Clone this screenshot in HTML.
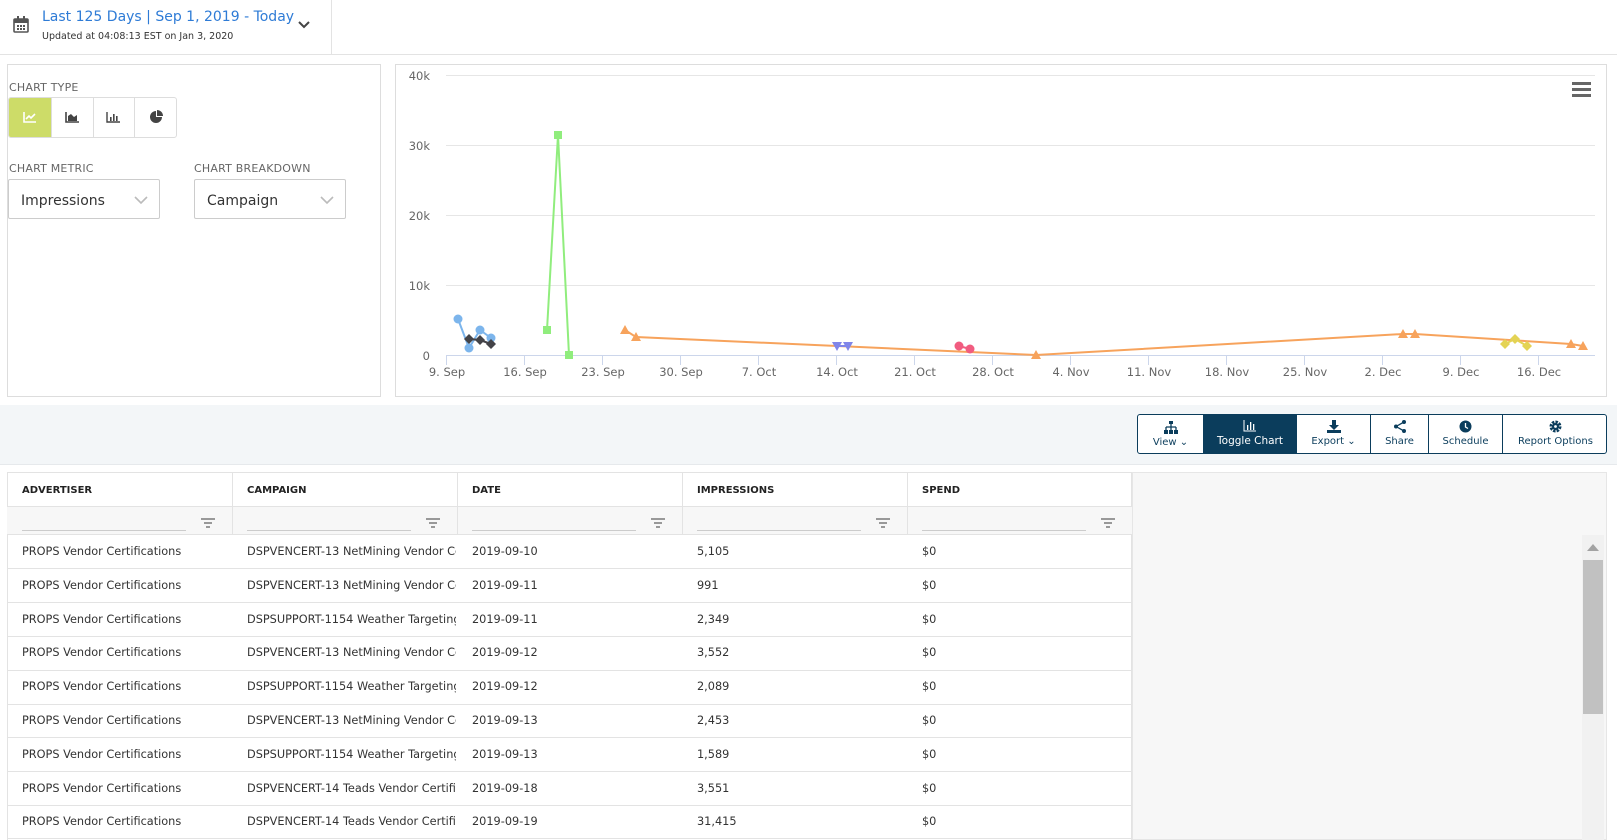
<!DOCTYPE html>
<html><head><meta charset="utf-8"><style>
*{box-sizing:border-box;margin:0;padding:0}
body{width:1617px;height:840px;overflow:hidden;background:#fff;font-family:"DejaVu Sans","Liberation Sans",sans-serif;color:#333;position:relative}
.abs{position:absolute}
.lbl{font-size:11px;color:#666;letter-spacing:0.2px}
.ct{border:1px solid #ddd;border-radius:3px}
.sel{border:1px solid #ccc;border-radius:2px;font-size:14px;color:#333;padding:13px 12px 0;height:40px}
.th{font-size:10px;font-weight:bold;color:#222}
.cell{font-size:11.3px;color:#333;white-space:nowrap;overflow:hidden}
.btn{position:absolute;top:0;height:40px;border-right:1px solid #0b3d5c;text-align:center;font-size:10px;color:#0b3d5c;padding-top:5px}
</style></head><body>
<div class="abs" style="left:0;top:0;width:1617px;height:55px;border-bottom:1px solid #e3e3e3"></div>
<div class="abs" style="left:331px;top:0;width:1px;height:55px;background:#e3e3e3"></div>
<svg class="abs" style="left:13px;top:16px" width="16" height="18"><rect x="1" y="3" width="14" height="13" rx="1" fill="none" stroke="#555" stroke-width="1.6"/><rect x="1" y="3" width="14" height="4" fill="#555"/><rect x="4" y="0" width="2" height="4" fill="#555"/><rect x="10" y="0" width="2" height="4" fill="#555"/><g fill="#555"><rect x="4" y="9" width="2" height="2"/><rect x="7" y="9" width="2" height="2"/><rect x="10" y="9" width="2" height="2"/><rect x="4" y="12" width="2" height="2"/><rect x="7" y="12" width="2" height="2"/><rect x="10" y="12" width="2" height="2"/></g></svg>
<div class="abs" style="left:42px;top:9px;font-size:14px;color:#2e7bd6">Last 125 Days | Sep 1, 2019 - Today</div>
<div class="abs" style="left:42px;top:31px;font-size:9.5px;color:#333">Updated at 04:08:13 EST on Jan 3, 2020</div>
<svg class="abs" style="left:298px;top:20px" width="12" height="10"><path d="M1 2 L6 7 L11 2" fill="none" stroke="#444" stroke-width="2"/></svg>

<div class="abs" style="left:7px;top:64px;width:374px;height:333px;border:1px solid #ddd"></div>
<div class="abs lbl" style="left:9px;top:81px">CHART TYPE</div>
<div class="abs ct" style="left:8px;top:97px;width:169px;height:41px;overflow:hidden">
 <div class="abs" style="left:0;top:0;width:42px;height:41px;background:#cddc68"></div>
 <div class="abs" style="left:42px;top:0;width:1px;height:41px;background:#ddd"></div>
 <div class="abs" style="left:84px;top:0;width:1px;height:41px;background:#ddd"></div>
 <div class="abs" style="left:125px;top:0;width:1px;height:41px;background:#ddd"></div>
 <svg class="abs" style="left:14px;top:13px" width="14" height="12"><path d="M1 1V11H13" stroke="#fff" stroke-width="1.6" fill="none"/><path d="M3 8L6 5L8 7L12 3" stroke="#fff" stroke-width="1.6" fill="none"/></svg>
 <svg class="abs" style="left:56px;top:13px" width="15" height="12"><path d="M1 1V11H14" stroke="#444" stroke-width="1.6" fill="none"/><path d="M3 10V5L6 3L9 6L12 4V10Z" fill="#444"/></svg>
 <svg class="abs" style="left:97px;top:13px" width="15" height="12"><path d="M1 1V11H14" stroke="#444" stroke-width="1.4" fill="none"/><rect x="4" y="6" width="1.6" height="4" fill="#444"/><rect x="7" y="3" width="1.6" height="7" fill="#444"/><rect x="10" y="5" width="1.6" height="5" fill="#444"/></svg>
 <svg class="abs" style="left:140px;top:12px" width="14" height="14"><path d="M7 7V1A6 6 0 1 0 13 7Z" fill="#444"/><path d="M8 0V6H14A6 6 0 0 0 8 0Z" fill="#444"/></svg>
</div>
<div class="abs lbl" style="left:9px;top:162px">CHART METRIC</div>
<div class="abs lbl" style="left:194px;top:162px">CHART BREAKDOWN</div>
<div class="abs sel" style="left:8px;top:179px;width:152px">Impressions</div>
<div class="abs sel" style="left:194px;top:179px;width:152px">Campaign</div>
<svg class="abs" style="left:134px;top:196px" width="14" height="9"><path d="M1 1L7 7L13 1" fill="none" stroke="#bbb" stroke-width="1.6"/></svg>
<svg class="abs" style="left:320px;top:196px" width="14" height="9"><path d="M1 1L7 7L13 1" fill="none" stroke="#bbb" stroke-width="1.6"/></svg>

<div class="abs" style="left:395px;top:64px;width:1212px;height:333px;border:1px solid #ddd"></div>
<svg class="abs" style="left:0;top:0" width="1617" height="400" font-family="DejaVu Sans, sans-serif">
 <g stroke="#e6e6e6" stroke-width="1">
  <line x1="446" x2="1595" y1="75.5" y2="75.5"/><line x1="446" x2="1595" y1="145.5" y2="145.5"/><line x1="446" x2="1595" y1="215.5" y2="215.5"/><line x1="446" x2="1595" y1="285.5" y2="285.5"/>
 </g>
 <line x1="446" x2="1595" y1="355.5" y2="355.5" stroke="#ccd6eb"/>
 <g stroke="#ccd6eb">
  <line x1="446.5" x2="446.5" y1="355" y2="365"/><line x1="524.5" x2="524.5" y1="355" y2="365"/><line x1="602.5" x2="602.5" y1="355" y2="365"/><line x1="680.5" x2="680.5" y1="355" y2="365"/><line x1="758.5" x2="758.5" y1="355" y2="365"/><line x1="836.5" x2="836.5" y1="355" y2="365"/><line x1="914.5" x2="914.5" y1="355" y2="365"/><line x1="992.5" x2="992.5" y1="355" y2="365"/><line x1="1070.5" x2="1070.5" y1="355" y2="365"/><line x1="1148.5" x2="1148.5" y1="355" y2="365"/><line x1="1226.5" x2="1226.5" y1="355" y2="365"/><line x1="1304.5" x2="1304.5" y1="355" y2="365"/><line x1="1382.5" x2="1382.5" y1="355" y2="365"/><line x1="1460.5" x2="1460.5" y1="355" y2="365"/><line x1="1538.5" x2="1538.5" y1="355" y2="365"/>
 </g>
 <g font-size="11.5" fill="#666" text-anchor="end">
  <text x="430" y="80">40k</text><text x="430" y="150">30k</text><text x="430" y="220">20k</text><text x="430" y="290">10k</text><text x="430" y="360">0</text>
 </g>
 <g font-size="11.5" fill="#666" text-anchor="middle">
  <text x="447" y="376">9. Sep</text><text x="525" y="376">16. Sep</text><text x="603" y="376">23. Sep</text><text x="681" y="376">30. Sep</text><text x="759" y="376">7. Oct</text><text x="837" y="376">14. Oct</text><text x="915" y="376">21. Oct</text><text x="993" y="376">28. Oct</text><text x="1071" y="376">4. Nov</text><text x="1149" y="376">11. Nov</text><text x="1227" y="376">18. Nov</text><text x="1305" y="376">25. Nov</text><text x="1383" y="376">2. Dec</text><text x="1461" y="376">9. Dec</text><text x="1539" y="376">16. Dec</text>
 </g>
 <polyline points="625,330 636,337 1036,355 1403,334 1415,334 1571,344 1583,346" fill="none" stroke="#f7a35c" stroke-width="2"/>
 <g fill="#f7a35c"><path d="M625 325l5 9h-10z"/><path d="M636 332l5 9h-10z"/><path d="M1036 350l5 9h-10z"/><path d="M1403 329l5 9h-10z"/><path d="M1415 329l5 9h-10z"/><path d="M1571 339l5 9h-10z"/><path d="M1583 341l5 9h-10z"/></g>
 <polyline points="837,346 848,346" stroke="#8085e9" stroke-width="2"/>
 <g fill="#8085e9"><path d="M832 342h10l-5 9z"/><path d="M843 342h10l-5 9z"/></g>
 <polyline points="959,346 970,349" stroke="#f15c80" stroke-width="2"/>
 <circle cx="959" cy="346" r="4.5" fill="#f15c80"/><circle cx="970" cy="349" r="4.5" fill="#f15c80"/>
 <polyline points="1505,344 1515,339 1527,346" fill="none" stroke="#e4d354" stroke-width="2"/>
 <g fill="#e4d354"><path d="M1505 339l5 5-5 5-5-5z"/><path d="M1515 334l5 5-5 5-5-5z"/><path d="M1527 341l5 5-5 5-5-5z"/></g>
 <polyline points="547,330 558,135 569,355" fill="none" stroke="#90ed7d" stroke-width="2"/>
 <g fill="#90ed7d"><rect x="543" y="326" width="8" height="8"/><rect x="554" y="131" width="8" height="8"/><rect x="565" y="351" width="8" height="8"/></g>
 <polyline points="458,319 469,348 480,330 491,338" fill="none" stroke="#7cb5ec" stroke-width="2"/>
 <g fill="#7cb5ec"><circle cx="458" cy="319" r="4.5"/><circle cx="469" cy="348" r="4.5"/><circle cx="480" cy="330" r="4.5"/><circle cx="491" cy="338" r="4.5"/></g>
 <polyline points="469,339 480,340 491,344" fill="none" stroke="#434348" stroke-width="2"/>
 <g fill="#434348"><path d="M469 334l5 5-5 5-5-5z"/><path d="M480 335l5 5-5 5-5-5z"/><path d="M491 339l5 5-5 5-5-5z"/></g>
 <g fill="#666"><rect x="1572" y="82" width="19" height="3"/><rect x="1572" y="88" width="19" height="3"/><rect x="1572" y="94" width="19" height="3"/></g>
</svg>

<div class="abs" style="left:0;top:405px;width:1617px;height:60px;background:#f3f6f8;border-bottom:1px solid #e6e9ec"></div>
<div class="abs" style="left:1137px;top:414px;width:470px;height:40px;border:1px solid #0b3d5c;border-radius:3px;background:#fff;overflow:hidden">
 <div class="btn" style="left:0;width:66px;padding-top:6px">
  <svg width="14" height="13"><rect x="5" y="0" width="4" height="3" fill="#0b3d5c"/><path d="M7 3V6M2 6H12M2 6V9M7 6V9M12 6V9" stroke="#0b3d5c" stroke-width="1.3" fill="none"/><rect x="0" y="9" width="4" height="4" fill="#0b3d5c"/><rect x="5" y="9" width="4" height="4" fill="#0b3d5c"/><rect x="10" y="9" width="4" height="4" fill="#0b3d5c"/></svg><br>View &#8964;</div>
 <div class="btn" style="left:66px;width:93px;background:#0b3d5c;color:#fff">
  <svg width="14" height="12"><path d="M1 0V11H13" stroke="#fff" stroke-width="1" fill="none"/><rect x="4" y="5" width="1.3" height="5" fill="#fff"/><rect x="7" y="2" width="1.3" height="8" fill="#fff"/><rect x="10" y="4" width="1.3" height="6" fill="#fff"/></svg><br><span style="font-size:10.5px">Toggle Chart</span></div>
 <div class="btn" style="left:159px;width:74px">
  <svg width="14" height="13"><path d="M5 0H9V5H12L7 10L2 5H5Z" fill="#0b3d5c"/><rect x="0" y="10" width="14" height="3" fill="#0b3d5c"/></svg><br>Export &#8964;</div>
 <div class="btn" style="left:233px;width:58px">
  <svg width="12" height="13"><circle cx="10" cy="2" r="2" fill="#0b3d5c"/><circle cx="2" cy="6.5" r="2" fill="#0b3d5c"/><circle cx="10" cy="11" r="2" fill="#0b3d5c"/><path d="M10 2L2 6.5L10 11" stroke="#0b3d5c" stroke-width="1.3" fill="none"/></svg><br>Share</div>
 <div class="btn" style="left:291px;width:74px">
  <svg width="13" height="13"><circle cx="6.5" cy="6.5" r="6" fill="#0b3d5c"/><path d="M6.5 3V7L9 8.5" stroke="#fff" stroke-width="1.3" fill="none"/></svg><br>Schedule</div>
 <div class="btn" style="left:365px;width:105px;border-right:none">
  <svg width="13" height="13"><circle cx="6.5" cy="6.5" r="4.5" fill="none" stroke="#0b3d5c" stroke-width="3" stroke-dasharray="2.4 1.1"/><circle cx="6.5" cy="6.5" r="3.5" fill="#0b3d5c"/><circle cx="6.5" cy="6.5" r="1.4" fill="#fff"/></svg><br>Report Options</div>
</div>

<div class="abs" style="left:1132px;top:472px;width:475px;height:368px;background:#f7f7f7;border:1px solid #e6e6e6"></div>
<div class="abs" style="left:1582px;top:535px;width:22px;height:305px;background:#f1f1f1"></div>
<div class="abs" style="left:1583px;top:560px;width:20px;height:154px;background:#c1c1c1"></div>
<svg class="abs" style="left:1587px;top:544px" width="12" height="7"><path d="M0 7L6 0L12 7Z" fill="#a3a3a3"/></svg>

<div class="abs" style="left:7px;top:472px;width:1125px;height:368px;border:1px solid #e3e3e3;border-bottom:none"></div>
<div class="abs" style="left:7px;top:506px;width:1125px;height:29px;background:#f7f7f7;border-top:1px solid #e3e3e3;border-bottom:1px solid #e3e3e3"></div>
<svg class="abs" style="left:0;top:472px" width="1140" height="368">
 <g stroke="#e3e3e3"><line x1="232.5" x2="232.5" y1="0" y2="63"/><line x1="457.5" x2="457.5" y1="0" y2="63"/><line x1="682.5" x2="682.5" y1="0" y2="63"/><line x1="907.5" x2="907.5" y1="0" y2="63"/>
 <line x1="7" x2="1132" y1="96.5" y2="96.5"/><line x1="7" x2="1132" y1="130.5" y2="130.5"/><line x1="7" x2="1132" y1="164.5" y2="164.5"/><line x1="7" x2="1132" y1="198.5" y2="198.5"/><line x1="7" x2="1132" y1="232.5" y2="232.5"/><line x1="7" x2="1132" y1="265.5" y2="265.5"/><line x1="7" x2="1132" y1="299.5" y2="299.5"/><line x1="7" x2="1132" y1="333.5" y2="333.5"/><line x1="7" x2="1132" y1="366.5" y2="366.5"/></g>
 <g stroke="#ccc"><line x1="22" x2="186" y1="58.5" y2="58.5"/><line x1="247" x2="411" y1="58.5" y2="58.5"/><line x1="472" x2="636" y1="58.5" y2="58.5"/><line x1="697" x2="861" y1="58.5" y2="58.5"/><line x1="922" x2="1086" y1="58.5" y2="58.5"/></g>
 <g fill="#999"><g id="f"><rect x="201" y="46" width="14" height="2"/><rect x="204" y="50" width="8" height="2"/><rect x="206" y="54" width="4" height="2"/></g>
 <use href="#f" x="225"/><use href="#f" x="450"/><use href="#f" x="675"/><use href="#f" x="900"/></g>
</svg>
<div class="abs th" style="left:22px;top:485px">ADVERTISER</div>
<div class="abs th" style="left:247px;top:485px">CAMPAIGN</div>
<div class="abs th" style="left:472px;top:485px">DATE</div>
<div class="abs th" style="left:697px;top:485px">IMPRESSIONS</div>
<div class="abs th" style="left:922px;top:485px">SPEND</div>

<div class="abs cell" style="left:22px;top:535px;line-height:33.8px;width:210px">PROPS Vendor Certifications<br>PROPS Vendor Certifications<br>PROPS Vendor Certifications<br>PROPS Vendor Certifications<br>PROPS Vendor Certifications<br>PROPS Vendor Certifications<br>PROPS Vendor Certifications<br>PROPS Vendor Certifications<br>PROPS Vendor Certifications</div>
<div class="abs cell" style="left:247px;top:535px;line-height:33.8px;width:209px">DSPVENCERT-13 NetMining Vendor Certification<br>DSPVENCERT-13 NetMining Vendor Certification<br>DSPSUPPORT-1154 Weather Targeting<br>DSPVENCERT-13 NetMining Vendor Certification<br>DSPSUPPORT-1154 Weather Targeting<br>DSPVENCERT-13 NetMining Vendor Certification<br>DSPSUPPORT-1154 Weather Targeting<br>DSPVENCERT-14 Teads Vendor Certification<br>DSPVENCERT-14 Teads Vendor Certification</div>
<div class="abs cell" style="left:472px;top:535px;line-height:33.8px">2019-09-10<br>2019-09-11<br>2019-09-11<br>2019-09-12<br>2019-09-12<br>2019-09-13<br>2019-09-13<br>2019-09-18<br>2019-09-19</div>
<div class="abs cell" style="left:697px;top:535px;line-height:33.8px">5,105<br>991<br>2,349<br>3,552<br>2,089<br>2,453<br>1,589<br>3,551<br>31,415</div>
<div class="abs cell" style="left:922px;top:535px;line-height:33.8px">$0<br>$0<br>$0<br>$0<br>$0<br>$0<br>$0<br>$0<br>$0</div>
</body></html>
